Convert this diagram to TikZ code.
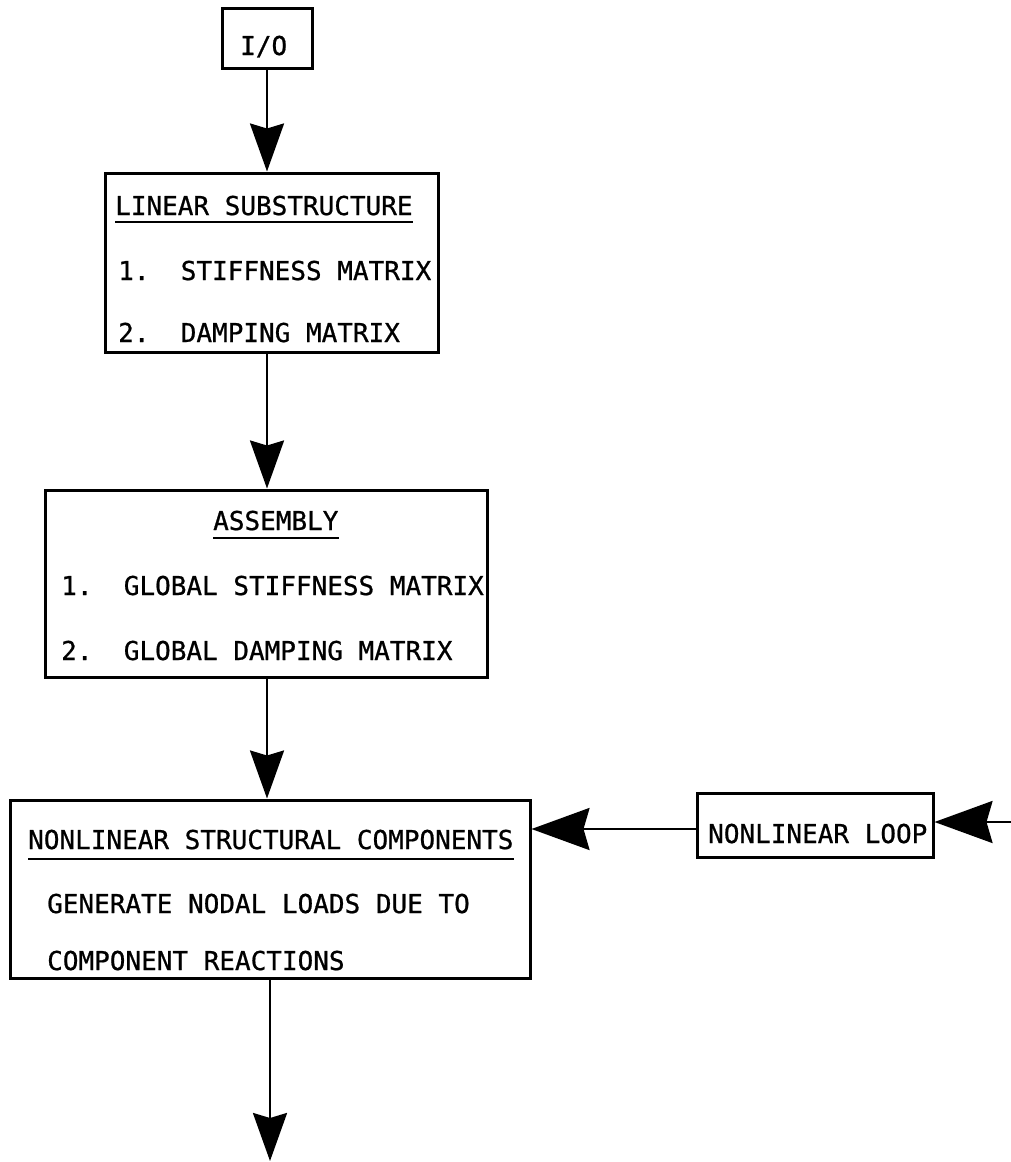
\documentclass[tikz,border=0pt]{standalone}
\usepackage{fontspec}
\newfontfamily\tw{DejaVu Sans Mono}[FakeBold=0.8]
\usetikzlibrary{arrows.meta}
\begin{document}
\begin{tikzpicture}[x=1pt,y=-1pt,
  box/.style={draw, line width=3pt, inner sep=0pt},
  txt/.style={font=\tw\fontsize{26}{30}\selectfont, inner sep=0pt, anchor=base west},
  ul/.style={line width=2.5pt},
  varr/.style={-{Stealth[length=48pt,width=34pt,inset=5pt]}, line width=2.6pt},
  harr/.style={-{Stealth[length=58pt,width=42pt,inset=6pt]}, line width=2.6pt}]
\useasboundingbox (0,0) rectangle (1011,1162);
% boxes
\node[box, minimum width=90pt, minimum height=60pt] (io) at (267,38) {};
\node[box, minimum width=333pt, minimum height=179pt] (lin) at (271.5,262.5) {};
\node[box, minimum width=442pt, minimum height=187pt] (asm) at (266,583.5) {};
\node[box, minimum width=520pt, minimum height=178pt] (nl) at (270,889) {};
\node[box, minimum width=236pt, minimum height=64pt] (loop) at (815,825) {};
% texts
\node[txt] (tio) at (240,55) {I/O};
\node[txt] (t1) at (115,215) {LINEAR SUBSTRUCTURE};
\draw[ul] ([yshift=-7pt]t1.base west) -- ([yshift=-7pt]t1.base east);
\node[txt] (t2) at (118,280) {1.\ \ STIFFNESS MATRIX};
\node[txt] (t3) at (118,342) {2.\ \ DAMPING MATRIX};
\node[txt] (a1) at (213,530) {ASSEMBLY};
\draw[ul] ([yshift=-8pt]a1.base west) -- ([yshift=-8pt]a1.base east);
\node[txt] (a2) at (61,595) {1.\ \ GLOBAL STIFFNESS MATRIX};
\node[txt] (a3) at (61,660) {2.\ \ GLOBAL DAMPING MATRIX};
\node[txt] (n1) at (28,849) {NONLINEAR STRUCTURAL COMPONENTS};
\draw[ul] ([yshift=-10pt]n1.base west) -- ([yshift=-10pt]n1.base east);
\node[txt] (n2) at (47,913) {GENERATE NODAL LOADS DUE TO};
\node[txt] (n3) at (47,970) {COMPONENT REACTIONS};
\node[txt] (l1) at (708,843) {NONLINEAR LOOP};
% connectors
\coordinate (out) at (270,1161);
\coordinate (rin) at (1011,822);
\draw[varr] (io.south) -- (io.south |- lin.north);
\draw[varr] (io.south |- lin.south) -- (io.south |- asm.north);
\draw[varr] (io.south |- asm.south) -- (io.south |- nl.north);
\draw[varr] (nl.south) -- (out);
\draw[harr] (rin) -- (rin -| loop.east);
\draw[harr] ([yshift=-4pt]loop.west) -- ([yshift=-4pt]loop.west -| nl.east);
\end{tikzpicture}
\end{document}
